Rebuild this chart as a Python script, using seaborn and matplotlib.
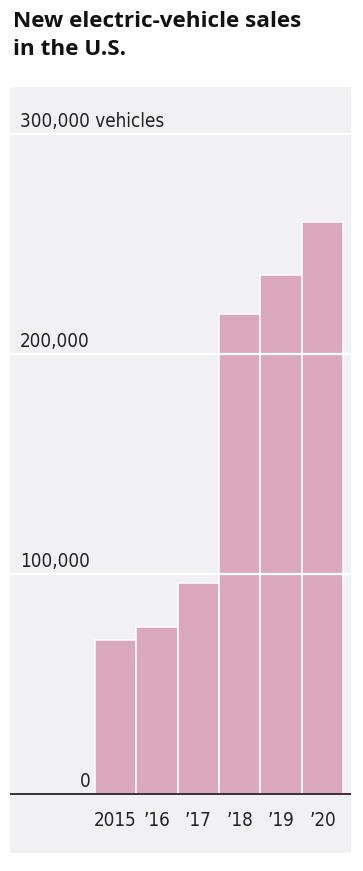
import pandas as pd
import seaborn as sns
import matplotlib.pyplot as plt
import matplotlib.transforms as mtransforms

years = ['2015', '\u201916', '\u201917', '\u201918', '\u201919', '\u201920']
sales = [70000, 76000, 96000, 218000, 236000, 260000]
grid_values = [100000, 200000, 300000]
grid_labels = ['100,000', '200,000', '300,000 vehicles']

df = pd.DataFrame({'year': years, 'sales': sales})

W, H, DPI = 363, 871, 100
panel_bg = '#f1f0f2'
bar_color = '#dba8bb'
label_font = dict(family=['DejaVu Sans'], fontstretch='condensed', fontsize=13.5, color='#222222')

sns.set_theme(style='white')
plt.rcParams['font.family'] = ['DejaVu Sans']

fig = plt.figure(figsize=(W / DPI, H / DPI), dpi=DPI)
fig.patch.set_facecolor('white')

# axes covers the grey panel (pixels 10..351 x 87..853)
ax = fig.add_axes([10 / W, 1 - 853 / H, 341 / W, (853 - 87) / H])
ax.set_facecolor(panel_bg)

sns.barplot(data=df, x='year', y='sales', color=bar_color, saturation=1,
            width=1, edgecolor='white', linewidth=1.1, ax=ax)

ax.set_xlim(-2.55, 5.69)
ax.set_ylim(-26800, 321400)

for v in grid_values:
    ax.axhline(v, color='white', lw=1.6, zorder=5)
ax.axhline(0, color='black', lw=1.1, zorder=6)

for s in ax.spines.values():
    s.set_visible(False)

ax.set_yticks([])
ax.set_xticks([])
ax.set_xlabel('')
ax.set_ylabel('')

# year labels under the baseline
for i, lab in enumerate(years):
    ax.text(i, -11800, lab, ha='center', va='center', zorder=7, **label_font)

trans = mtransforms.blended_transform_factory(ax.transAxes, ax.transData)
for v, lab in zip(grid_values, grid_labels):
    ax.text(0.029, v + 1200, lab, transform=trans, ha='left', va='bottom',
            zorder=7, **label_font)
ax.text(0.235, 1200, '0', transform=trans, ha='right', va='bottom',
        zorder=7, **label_font)

fig.text(13 / W, 1 - 11 / H, 'New electric-vehicle sales\nin the U.S.',
         ha='left', va='top', fontsize=16.2, fontweight='bold',
         family=['Open Sans', 'DejaVu Sans'], color='#111111', linespacing=1.42)

fig.savefig('out.png', dpi=DPI)
